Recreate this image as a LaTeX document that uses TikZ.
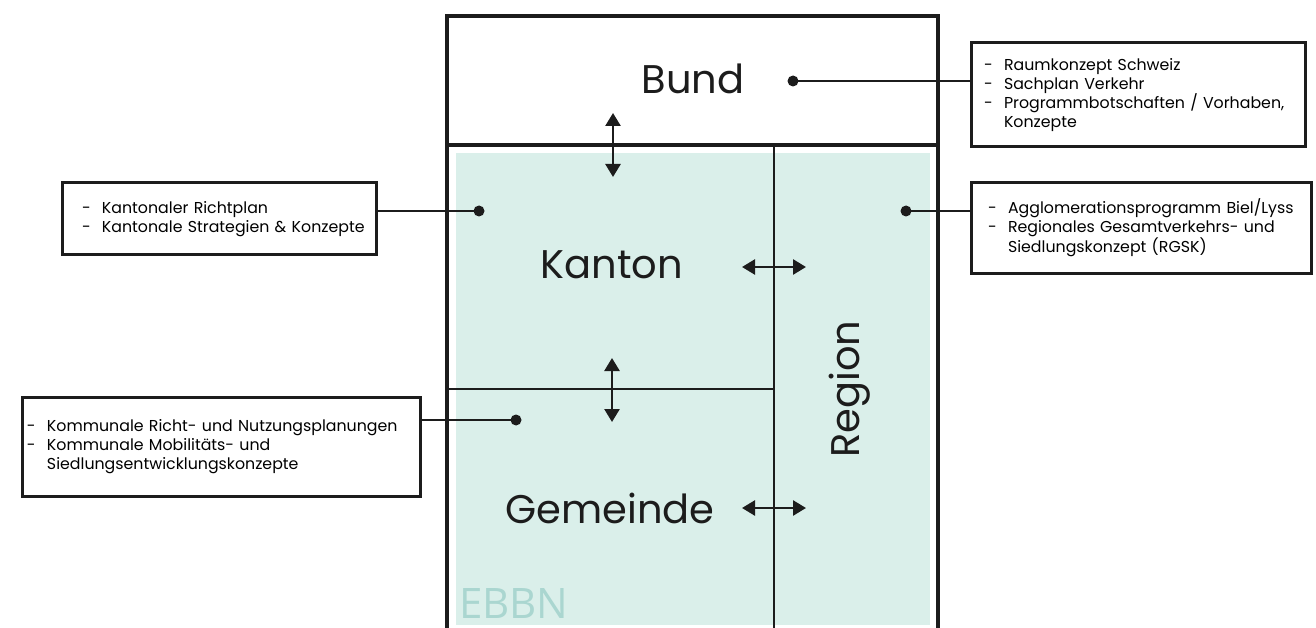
\documentclass[tikz,border=0pt]{standalone}
\usepackage{fontspec}
\setmainfont{Poppins}
\newfontfamily\ebbnfont{Open Sans}
\usetikzlibrary{arrows.meta}
\definecolor{planblack}{RGB}{28,28,28}
\definecolor{planteal}{RGB}{218,239,234}
\definecolor{planlabel}{RGB}{170,214,208}
\newcommand{\listitem}[2][0pt]{\hspace*{#1}\makebox[20pt][l]{-}#2}
\newcommand{\listcont}[2][0pt]{\hspace*{#1}\hspace*{20pt}#2}
\tikzset{
  listbox/.style={draw=planblack, line width=3pt, align=left,
    font=\fontsize{15.8}{19}\selectfont, inner ysep=0pt},
  levellabel/.style={font=\fontsize{40}{48}\selectfont, text=planblack},
  link/.style={{Triangle[length=13pt,width=15pt]}-{Triangle[length=13pt,width=15pt]},
    line width=2.6pt, planblack},
  leader/.style={line width=2.8pt, planblack}
}

\begin{document}
\begin{tikzpicture}[x=1pt, y=-1pt]
  \useasboundingbox (0,0) rectangle (1316,628);

  % === LEVELS ===
  \fill[planteal] (456,153) rectangle (930,625);
  \draw[planblack, line width=3.2pt]
    (447,628) -- (447,16) -- (938,16) -- (938,628);
  \draw[planblack, line width=3.2pt] (447,145) -- (938,145);
  \draw[planblack, line width=2.8pt] (774,145) -- (774,628);
  \draw[planblack, line width=2.8pt] (447,389) -- (774,389);

  \node[levellabel] (bund) at (693,79) {Bund};
  \node[levellabel] (kanton) at (612,265) {Kanton};
  \node[levellabel] (gemeinde) at (610,508) {Gemeinde};
  \node[levellabel, rotate=90] (region) at (850,389) {Region};
  \node[font=\ebbnfont\fontsize{42}{48}\selectfont, text=planlabel,
    anchor=south west, inner sep=0pt] (ebbn) at (459,619) {EBBN};

  % Exchange between the levels
  \coordinate (bk1) at (613,113);
  \coordinate (bk2) at (613,177);
  \draw[link] (bk1) -- (bk2);
  \coordinate (kg1) at (612,358);
  \coordinate (kg2) at (612,422);
  \draw[link] (kg1) -- (kg2);
  \coordinate (kr1) at (742,267);
  \coordinate (kr2) at (806,267);
  \draw[link] (kr1) -- (kr2);
  \coordinate (gr1) at (742,508);
  \coordinate (gr2) at (806,508);
  \draw[link] (gr1) -- (gr2);

  % === INSTRUMENTS ===
  \node[listbox, minimum width=334pt, minimum height=104pt,
    inner xsep=13pt, text width=308pt] (bundbox) at (1138,95)
    {\listitem{Raumkonzept Schweiz}\\
     \listitem{Sachplan Verkehr}\\
     \listitem{Programmbotschaften / Vorhaben,}\\
     \listcont{Konzepte}};
  \node[listbox, minimum width=340pt, minimum height=91pt,
    inner xsep=8pt, text width=324pt] (regionbox) at (1141,228)
    {\listitem[9pt]{Agglomerationsprogramm Biel/Lyss}\\
     \listitem[9pt]{Regionales Gesamtverkehrs- und}\\
     \listcont[9pt]{Siedlungskonzept (RGSK)}};
  \node[listbox, minimum width=314pt, minimum height=72pt,
    inner xsep=8pt, text width=298pt] (kantonbox) at (219,219)
    {\listitem[12pt]{Kantonaler Richtplan}\\
     \listitem[12pt]{Kantonale Strategien \& Konzepte}};
  \node[listbox, minimum width=398pt, minimum height=99pt,
    inner xsep=5pt, text width=388pt] (gemeindebox) at (221,447)
    {\listitem{Kommunale Richt- und Nutzungsplanungen}\\
     \listitem{Kommunale Mobilitäts- und}\\
     \listcont{Siedlungsentwicklungskonzepte}};

  % Leaders from the levels to their instruments
  \coordinate (bunddot) at (793,81);
  \coordinate (kantondot) at (479,211);
  \coordinate (regiondot) at (906,211);
  \coordinate (gemeindedot) at (516,420);
  \foreach \d in {bunddot,kantondot,regiondot,gemeindedot}
    \fill[planblack] (\d) circle (5.5pt);
  \draw[leader] (bunddot) -- (bunddot -| bundbox.west);
  \draw[leader] (regiondot) -- (regiondot -| regionbox.west);
  \draw[leader] (kantondot) -- (kantondot -| kantonbox.east);
  \draw[leader] (gemeindedot) -- (gemeindedot -| gemeindebox.east);

\end{tikzpicture}
\end{document}
